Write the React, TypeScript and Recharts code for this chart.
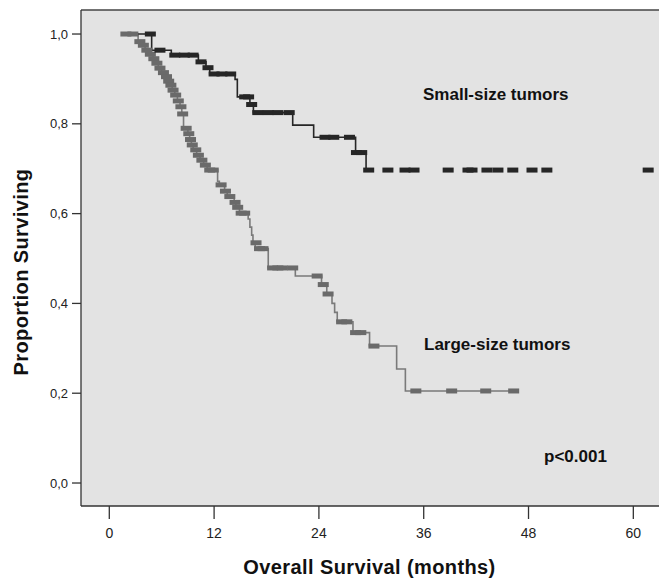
import React from 'react';
import { ComposedChart, Line, Scatter, XAxis, YAxis, CartesianGrid, ReferenceLine } from 'recharts';

// Overall survival (months) ticks and proportion ticks
const xTicks = [0, 12, 24, 36, 48, 60];
const yTicks = [0, 0.2, 0.4, 0.6, 0.8, 1.0];

// Small-size tumors: step curve (time, survival)
const smallTimes = [1.5, 4.85, 7.1, 10.2, 11.07, 11.5, 14.4, 14.66, 16.1, 16.5, 21.0, 23.4, 28.2, 29.4, 29.7];
const smallSurv = [1.0, 0.964, 0.953, 0.938, 0.925, 0.911, 0.899, 0.86, 0.843, 0.825, 0.797, 0.77, 0.736, 0.697, 0.697];
// Small-size tumors: censored cases
const smallCensorTimes = [4.7, 5.8, 7.5, 8.6, 9.6, 10.5, 11.3, 12.0, 12.9, 13.9, 15.5, 15.95, 16.3, 17.0, 18.2, 19.3, 20.6, 24.7, 25.7, 27.5, 28.3, 28.9, 29.7, 31.9, 33.86, 34.89, 38.8, 41.07, 41.53, 43.24, 44.5, 46.2, 48.4, 50.1, 61.7];
const smallCensorSurv = [1.0, 0.964, 0.953, 0.953, 0.953, 0.938, 0.925, 0.911, 0.911, 0.911, 0.86, 0.86, 0.843, 0.825, 0.825, 0.825, 0.825, 0.77, 0.77, 0.77, 0.736, 0.736, 0.697, 0.697, 0.697, 0.697, 0.697, 0.697, 0.697, 0.697, 0.697, 0.697, 0.697, 0.697, 0.697];

// Large-size tumors: step curve
const largeTimes = [1.4, 3.3, 3.7, 4.1, 4.5, 5.0, 5.35, 5.6, 6.0, 6.45, 6.7, 6.95, 7.2, 7.5, 7.8, 8.1, 8.3, 8.5, 9.0, 9.2, 9.4, 9.6, 10.0, 10.4, 10.8, 11.2, 12.4, 12.6, 13.2, 13.5, 14.3, 14.5, 14.9, 15.9, 16.1, 16.3, 16.45, 16.7, 18.2, 21.3, 24.3, 24.9, 25.5, 25.8, 26.1, 27.9, 29.8, 32.9, 33.9, 46.8];
const largeSurv = [1.0, 0.983, 0.975, 0.964, 0.955, 0.945, 0.935, 0.924, 0.914, 0.905, 0.895, 0.886, 0.875, 0.864, 0.851, 0.838, 0.822, 0.79, 0.778, 0.765, 0.753, 0.742, 0.73, 0.719, 0.708, 0.697, 0.672, 0.664, 0.65, 0.638, 0.625, 0.614, 0.601, 0.588, 0.57, 0.552, 0.535, 0.522, 0.479, 0.461, 0.442, 0.421, 0.4, 0.38, 0.359, 0.335, 0.305, 0.254, 0.205, 0.205];
// Large-size tumors: censored cases
const largeCensorTimes = [1.9, 2.7, 3.5, 3.9, 4.3, 4.7, 5.1, 5.45, 5.8, 6.2, 6.55, 6.8, 7.05, 7.3, 7.6, 7.9, 8.2, 8.4, 8.8, 9.1, 9.3, 9.5, 9.9, 10.2, 10.6, 11.0, 11.5, 11.9, 12.8, 13.3, 13.8, 14.4, 14.7, 15.1, 15.5, 16.8, 17.2, 17.6, 18.7, 19.3, 19.8, 21.0, 23.8, 24.5, 25.05, 26.6, 27.2, 28.2, 28.8, 30.3, 35.1, 39.2, 43.1, 46.3];
const largeCensorSurv = [1.0, 1.0, 0.983, 0.975, 0.964, 0.955, 0.945, 0.935, 0.924, 0.914, 0.905, 0.895, 0.886, 0.875, 0.864, 0.851, 0.838, 0.822, 0.79, 0.778, 0.765, 0.753, 0.742, 0.73, 0.719, 0.708, 0.697, 0.697, 0.664, 0.65, 0.638, 0.625, 0.614, 0.601, 0.601, 0.535, 0.522, 0.522, 0.479, 0.479, 0.479, 0.479, 0.461, 0.442, 0.421, 0.359, 0.359, 0.335, 0.335, 0.305, 0.205, 0.205, 0.205, 0.205];

const zip = (ts: number[], ss: number[]) => ts.map((t, i) => ({ t, s: ss[i] }));
const smallCurve = zip(smallTimes, smallSurv);
const smallCensor = zip(smallCensorTimes, smallCensorSurv);
const largeCurve = zip(largeTimes, largeSurv);
const largeCensor = zip(largeCensorTimes, largeCensorSurv);

const FONT = '"Liberation Sans", Arial, Helvetica, sans-serif';
const BLACK = '#262626';
const GRAY_LINE = '#7a7a7a';
const GRAY_MARK = '#6a6a6a';
const Y_MAX = 1.0535;
const Y_MIN = -0.0512;

const mark = (color: string) => (props: any) => (
  <rect x={props.cx - 5.5} y={props.cy - 2.5} width={11} height={5} fill={color} />
);

const labelStyle: React.CSSProperties = {
  position: 'absolute',
  fontFamily: FONT,
  fontWeight: 'bold',
  fontSize: 17,
  lineHeight: '17px',
  color: '#111',
  whiteSpace: 'nowrap',
};

export default function App() {
  return (
    <div style={{ position: 'absolute', left: 0, top: 0, width: 659, height: 579, background: '#fff' }}>
      <ComposedChart width={659} height={579} margin={{ top: 10, right: 0, bottom: 0, left: 0 }}>
        <CartesianGrid horizontal={false} vertical={false} fill="#e3e3e3" stroke="none" />
        <XAxis
          type="number"
          dataKey="t"
          domain={[-3.24, 62.94]}
          allowDataOverflow
          ticks={xTicks}
          height={73}
          tickSize={13}
          tickMargin={9}
          axisLine={{ stroke: '#333', strokeWidth: 1.3 }}
          tickLine={{ stroke: '#333', strokeWidth: 1.3 }}
          tick={{ fontSize: 14, fill: '#222', fontFamily: FONT }}
        />
        <YAxis
          type="number"
          dataKey="s"
          domain={[Y_MIN, Y_MAX]}
          allowDataOverflow
          ticks={yTicks}
          width={81}
          tickSize={9}
          tickMargin={4}
          tickFormatter={(v: number) => v.toFixed(1).replace('.', ',')}
          axisLine={{ stroke: '#333', strokeWidth: 1.3 }}
          tickLine={{ stroke: '#333', strokeWidth: 1.3 }}
          tick={{ fontSize: 13, fill: '#222', fontFamily: FONT }}
        />
        <ReferenceLine y={Y_MAX} stroke="#444" strokeWidth={1.3} />
        <Line data={largeCurve} dataKey="s" type="stepAfter" stroke={GRAY_LINE} strokeWidth={1.6} dot={false} isAnimationActive={false} />
        <Scatter data={largeCensor} dataKey="s" shape={mark(GRAY_MARK)} isAnimationActive={false} />
        <Line data={smallCurve} dataKey="s" type="stepAfter" stroke={BLACK} strokeWidth={1.6} dot={false} isAnimationActive={false} />
        <Scatter data={smallCensor} dataKey="s" shape={mark(BLACK)} isAnimationActive={false} />
      </ComposedChart>
      <div style={{ ...labelStyle, left: 423, top: 86 }}>Small-size tumors</div>
      <div style={{ ...labelStyle, left: 424, top: 336 }}>Large-size tumors</div>
      <div style={{ ...labelStyle, left: 544, top: 448 }}>p&lt;0.001</div>
      <div
        style={{
          position: 'absolute',
          left: 369.5 - 200,
          top: 556.6,
          width: 400,
          textAlign: 'center',
          fontFamily: FONT,
          fontWeight: 'bold',
          fontSize: 20,
          lineHeight: '20px',
          letterSpacing: 0.4,
          color: '#111',
          whiteSpace: 'nowrap',
        }}
      >
        Overall Survival (months)
      </div>
      <div
        style={{
          position: 'absolute',
          left: 20.5 - 150,
          top: 271.5 - 10,
          width: 300,
          height: 20,
          textAlign: 'center',
          fontFamily: FONT,
          fontWeight: 'bold',
          fontSize: 20,
          lineHeight: '20px',
          letterSpacing: 0.4,
          color: '#111',
          whiteSpace: 'nowrap',
          transform: 'rotate(-90deg)',
          transformOrigin: '150px 10px',
        }}
      >
        Proportion Surviving
      </div>
    </div>
  );
}
